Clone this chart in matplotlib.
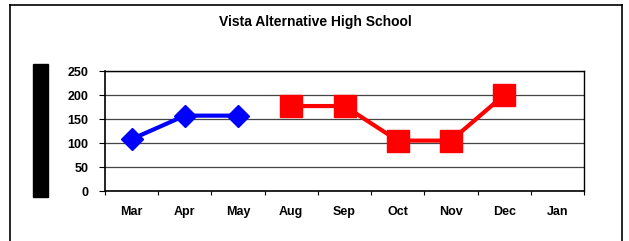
import matplotlib
matplotlib.use("Agg")
import matplotlib.pyplot as plt
import numpy as np
from matplotlib.patches import Rectangle
from matplotlib.lines import Line2D

months = ["Mar", "Apr", "May", "Aug", "Sep", "Oct", "Nov", "Dec", "Jan"]
blue_vals = [108, 157, 157, np.nan, np.nan, np.nan, np.nan, np.nan, np.nan]
red_vals = [np.nan, np.nan, np.nan, 177, 177, 105, 105, 200, np.nan]
yticks = [0, 50, 100, 150, 200, 250]

plt.rcParams["font.family"] = ["Liberation Sans", "DejaVu Sans"]

fig = plt.figure(figsize=(6.29, 2.41), dpi=100)
W, H = 629, 241

# outer frame (no bottom edge visible)
for xs, ys in [([10, 10], [H + 5, 5]), ([10, 622], [5, 5]), ([622, 622], [5, H + 5])]:
    fig.add_artist(Line2D([x / W for x in xs], [1 - y / H for y in ys],
                          color="black", lw=1.2, transform=fig.transFigure))

# black bar at the left
fig.add_artist(Rectangle((33 / W, 1 - 197 / H), 15 / W, 133 / H,
                         color="black", transform=fig.transFigure))

fig.text(315 / W, 1 - 22 / H, "Vista Alternative High School", ha="center", va="center",
         fontsize=10, fontweight="bold")

ax = fig.add_axes([105 / W, 1 - 191 / H, 479 / W, 120 / H])
x = np.arange(len(months))
ax.plot(x, blue_vals, color="#0000ff", lw=3, marker="D", markersize=11.5, zorder=3)
ax.plot(x, red_vals, color="#ff0000", lw=3, marker="s", markersize=15.5, zorder=3)

ax.set_xlim(-0.5, len(months) - 0.5)
ax.set_ylim(0, 250)
ax.set_yticks(yticks)
ax.set_yticklabels([str(v) for v in yticks], fontsize=9, fontweight="bold")
ax.set_xticks(x)
ax.set_xticklabels(months, fontsize=9, fontweight="bold")
ax.set_xticks(np.arange(len(months) + 1) - 0.5, minor=True)
ax.tick_params(axis="x", which="major", length=0, pad=11)
ax.tick_params(axis="x", which="minor", length=3, direction="out", width=0.8)
ax.tick_params(axis="y", length=4, width=0.8, pad=8)
ax.grid(axis="y", color="#444444", lw=0.9)
ax.set_axisbelow(True)
for s in ax.spines.values():
    s.set_color("black")
    s.set_linewidth(1)
ax.spines["left"].set_linewidth(1.2)
ax.spines["bottom"].set_linewidth(1.2)

fig.savefig("out.png", dpi=100)
